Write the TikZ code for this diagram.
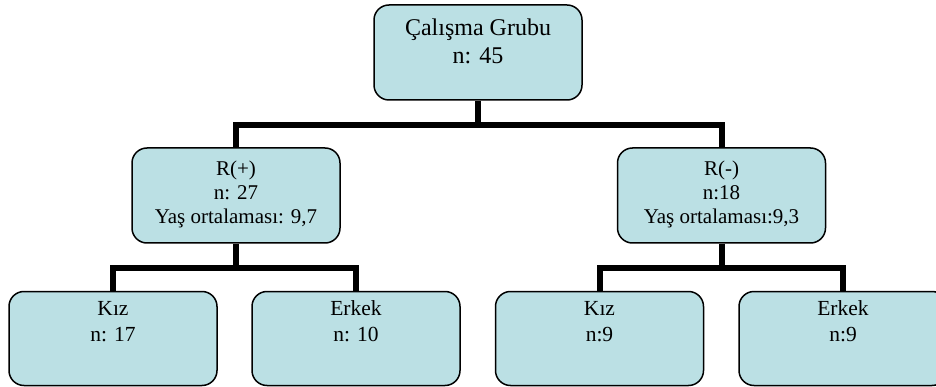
\documentclass[tikz,border=0pt]{standalone}
\usepackage{fontspec}
\setmainfont{Liberation Serif}
\definecolor{boxfill}{RGB}{187,224,228}
\tikzset{
  box/.style={draw=black, line width=1.5pt, fill=boxfill, rounded corners=15pt,
              minimum width=208pt, minimum height=94pt, inner sep=0pt},
  boxtext/.style 2 args={anchor=north, inner sep=0pt, align=center,
                  font=\fontsize{#1}{#2}\selectfont},
  link/.style={line width=6pt, line cap=butt}
}
\begin{document}
\begin{tikzpicture}[x=1pt, y=-1pt]
  \useasboundingbox (0,0) rectangle (936,387);
  \clip (0,0) rectangle (936,387);

  % boxes
  \node[box, minimum height=95pt] (root) at (478,52.5) {};
  \node[box, minimum height=95pt] (rp) at (236,195.5) {};
  \node[box, minimum height=95pt] (rm) at (721.5,195.5) {};
  \node[box] (kp) at (113,338.5) {};
  \node[box] (ep) at (356,338.5) {};
  \node[box] (km) at (599.5,338.5) {};
  \node[box] (em) at (843,338.5) {};

  % connectors
  \coordinate (j0) at (478,125);
  \coordinate (j1) at (236,268);
  \coordinate (j2) at (721.5,268);
  \draw[link] (root.south) -- (j0);
  \draw[link] (rp.north) |- (j0) -| (rm.north);
  \draw[link] (rp.south) -- (j1);
  \draw[link] (kp.north) |- (j1) -| (ep.north);
  \draw[link] (rm.south) -- (j2);
  \draw[link] (km.north) |- (j2) -| (em.north);

  % texts (first baseline = node top + strut height)
  \node[boxtext={24}{28}] (t0) at (478,35-19.6) {\strut Çalışma Grubu\\n: 45};
  \node[boxtext={21}{24}] (t1) at (236,175-16.8) {\strut R(+)\\n: 27\\Yaş ortalaması: 9,7};
  \node[boxtext={21}{24}] (t2) at (721.5,175-16.8) {\strut R(-)\\n:18\\Yaş ortalaması:9,3};
  \node[boxtext={21.5}{26}] (t3) at (113,315-18.2) {\strut Kız\\n: 17};
  \node[boxtext={21.5}{26}] (t4) at (356,315-18.2) {\strut Erkek\\n: 10};
  \node[boxtext={21.5}{26}] (t5) at (599.5,315-18.2) {\strut Kız\\n:9};
  \node[boxtext={21.5}{26}] (t6) at (843,315-18.2) {\strut Erkek\\n:9};
\end{tikzpicture}
\end{document}
